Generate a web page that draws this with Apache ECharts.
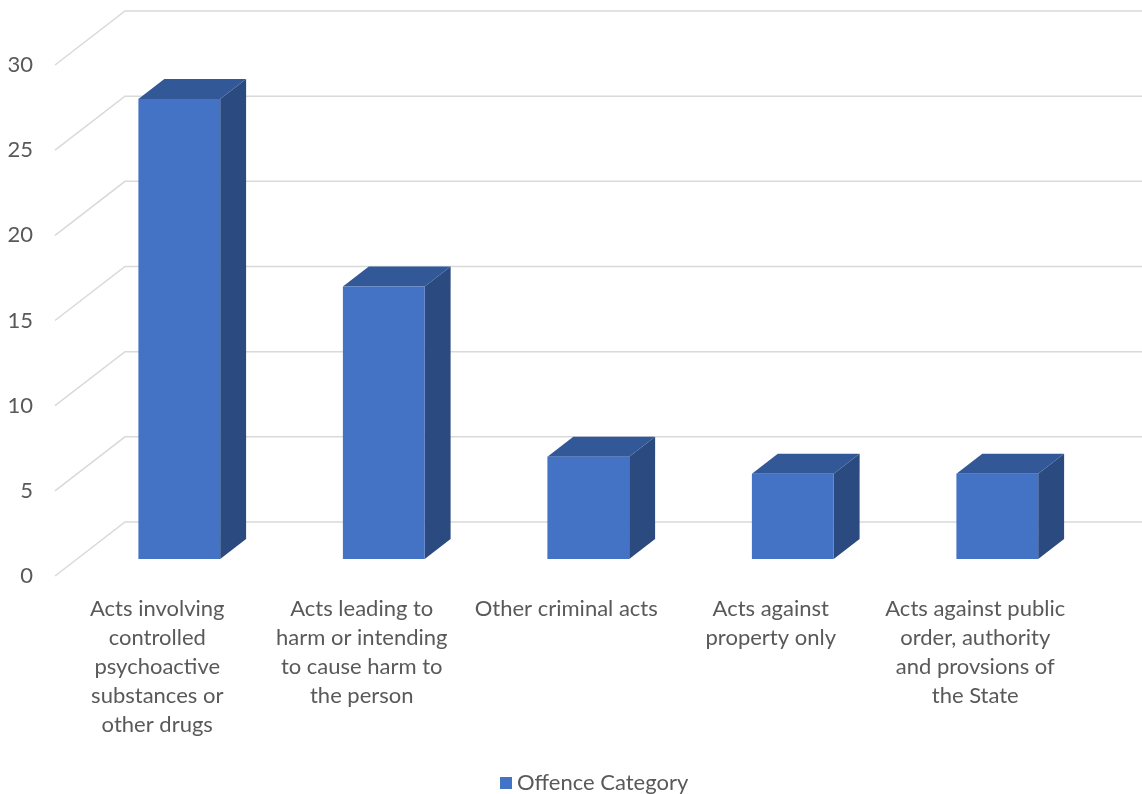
<!DOCTYPE html>
<html>
<head>
<meta charset="utf-8">
<title>Offence Category</title>
<script src="https://cdn.jsdelivr.net/npm/echarts@6/dist/echarts.min.js"></script>
<style>
  html, body { margin: 0; padding: 0; background: #ffffff; }
  #chart { width: 1142px; height: 794px; }
</style>
</head>
<body>
<div id="chart"></div>
<script>
// Category labels (line breaks as they are set under the axis)
const categories = [
  'Acts involving\ncontrolled\npsychoactive\nsubstances or\nother drugs',
  'Acts leading to\nharm or intending\nto cause harm to\nthe person',
  'Other criminal acts',
  'Acts against\nproperty only',
  'Acts against public\norder, authority\nand provsions of\nthe State'
];
const offenceCounts = [27, 16, 6, 5, 5];
const yTicks = [0, 5, 10, 15, 20, 25, 30];
const seriesName = 'Offence Category';

// Oblique depth of the floor/back wall, in pixels
const DEPTH_X = 70;
const DEPTH_Y = 54;
// Bars sit between these fractions of the depth
const BAR_FRONT = 0.315;
const BAR_BACK = 0.685;
const BAR_WIDTH_RATIO = 0.4;

const FONT = 'Lato, "Open Sans", sans-serif';
const TEXT_COLOR = '#595959';

const chart = echarts.init(document.getElementById('chart'), null, { renderer: 'canvas' });

function renderGridLine(params, api) {
  const cs = params.coordSys;
  const y = api.coord([0, api.value(1)])[1];
  const x0 = cs.x;
  return {
    type: 'polyline',
    shape: {
      points: [
        [x0, y],
        [x0 + DEPTH_X, y - DEPTH_Y],
        [x0 + cs.width + DEPTH_X, y - DEPTH_Y]
      ]
    },
    style: { stroke: '#d9d9d9', lineWidth: 1.5, fill: null }
  };
}

function renderBar(params, api) {
  const idx = api.value(0);
  const base = api.coord([idx, 0]);
  const top = api.coord([idx, api.value(1)]);
  const half = api.size([1, 0])[0] * BAR_WIDTH_RATIO / 2;
  const fx = BAR_FRONT * DEPTH_X, fy = BAR_FRONT * DEPTH_Y;
  const bx = (BAR_BACK - BAR_FRONT) * DEPTH_X, by = (BAR_BACK - BAR_FRONT) * DEPTH_Y;
  const L = base[0] - half + fx;
  const R = base[0] + half + fx;
  const B = base[1] - fy;
  const T = top[1] - fy;
  return {
    type: 'group',
    children: [
      {
        type: 'polygon',
        shape: { points: [[R, B], [R + bx, B - by], [R + bx, T - by], [R, T]] },
        style: { fill: '#2b4a7f' }
      },
      {
        type: 'polygon',
        shape: { points: [[L, T], [R, T], [R + bx, T - by], [L + bx, T - by]] },
        style: { fill: '#335898' }
      },
      {
        type: 'rect',
        shape: { x: L, y: T, width: R - L, height: B - T },
        style: { fill: '#4472c4' }
      }
    ]
  };
}

const option = {
  backgroundColor: '#ffffff',
  animation: false,
  textStyle: { fontFamily: FONT },
  grid: { left: 55, right: 64.5, top: 65, bottom: 218, containLabel: false },
  legend: {
    data: [seriesName],
    left: 495,
    top: 767,
    icon: 'rect',
    itemWidth: 12,
    itemHeight: 12,
    textStyle: { color: TEXT_COLOR, fontSize: 22, fontFamily: FONT }
  },
  xAxis: {
    type: 'category',
    data: categories,
    boundaryGap: true,
    axisLine: { show: false },
    axisTick: { show: false },
    splitLine: { show: false },
    axisLabel: {
      interval: 0,
      margin: 18,
      color: TEXT_COLOR,
      fontSize: 22,
      lineHeight: 29,
      fontFamily: FONT,
      align: 'center'
    }
  },
  yAxis: {
    type: 'value',
    min: 0,
    max: 30,
    interval: 5,
    axisLine: { show: false },
    axisTick: { show: false },
    splitLine: { show: false },
    axisLabel: { margin: 22, color: TEXT_COLOR, fontSize: 22, fontFamily: FONT }
  },
  series: [
    {
      type: 'custom',
      name: 'gridlines',
      silent: true,
      clip: false,
      z: 1,
      renderItem: renderGridLine,
      encode: { x: 0, y: 1 },
      data: yTicks.map(v => [0, v])
    },
    {
      type: 'custom',
      name: seriesName,
      clip: false,
      z: 2,
      itemStyle: { color: '#4472c4' },
      renderItem: renderBar,
      encode: { x: 0, y: 1 },
      data: offenceCounts.map((v, i) => [i, v])
    }
  ]
};

chart.setOption(option);
</script>
</body>
</html>
